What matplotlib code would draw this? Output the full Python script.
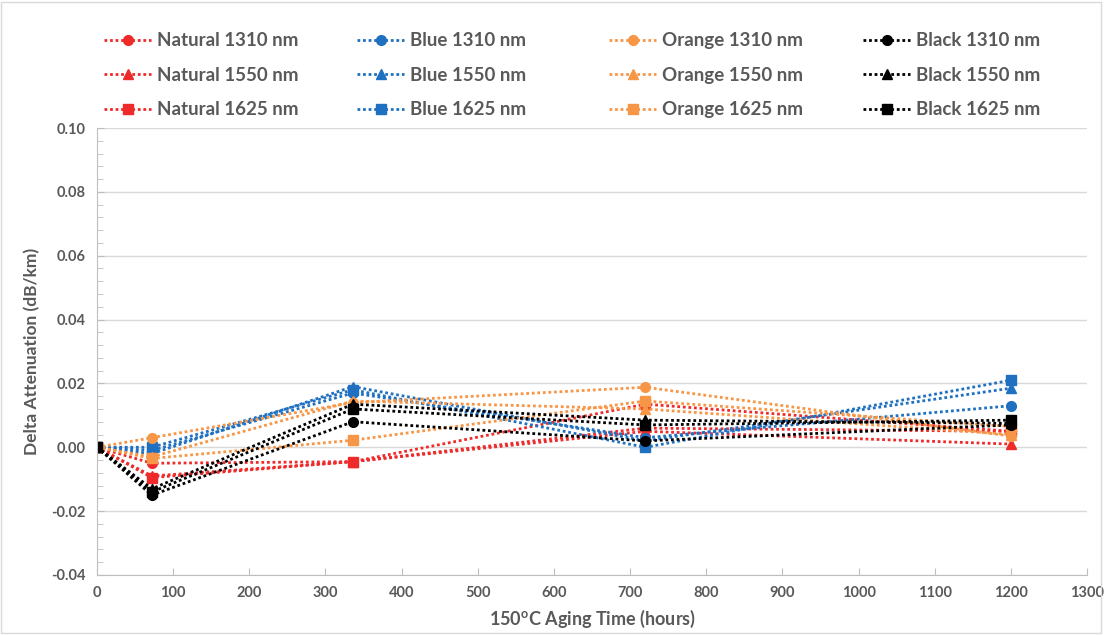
import numpy as np
import matplotlib.pyplot as plt
from matplotlib.ticker import MultipleLocator, FormatStrFormatter
from matplotlib.patches import Rectangle

plt.rcParams['font.family'] = ['Lato', 'DejaVu Sans']

hours = [0, 72, 336, 720, 1200]

natural_1310 = [0, -0.005, -0.0045, 0.006, 0.005]
natural_1550 = [0, -0.009, -0.0045, 0.005, 0.001]
natural_1625 = [0, -0.0095, -0.0045, 0.0135, 0.005]
blue_1310 = [0, -0.001, 0.017, 0.003, 0.013]
blue_1550 = [0, -0.002, 0.019, 0.002, 0.0185]
blue_1625 = [0, 0.000, 0.018, 0.000, 0.021]
orange_1310 = [0, 0.003, 0.014, 0.0188, 0.0035]
orange_1550 = [0, -0.003, 0.0145, 0.012, 0.004]
orange_1625 = [0, -0.0035, 0.0022, 0.0145, 0.0065]
black_1310 = [0, -0.015, 0.008, 0.002, 0.007]
black_1550 = [0, -0.013, 0.0135, 0.0085, 0.0075]
black_1625 = [0, -0.014, 0.012, 0.007, 0.0085]

series = [
    ('Natural 1310 nm', natural_1310, '#EE2A2A', 'o'),
    ('Natural 1550 nm', natural_1550, '#EE2A2A', '^'),
    ('Natural 1625 nm', natural_1625, '#EE2A2A', 's'),
    ('Blue 1310 nm', blue_1310, '#1F70C1', 'o'),
    ('Blue 1550 nm', blue_1550, '#1F70C1', '^'),
    ('Blue 1625 nm', blue_1625, '#1F70C1', 's'),
    ('Orange 1310 nm', orange_1310, '#F79646', 'o'),
    ('Orange 1550 nm', orange_1550, '#F79646', '^'),
    ('Orange 1625 nm', orange_1625, '#F79646', 's'),
    ('Black 1310 nm', black_1310, '#000000', 'o'),
    ('Black 1550 nm', black_1550, '#000000', '^'),
    ('Black 1625 nm', black_1625, '#000000', 's'),
]

fig = plt.figure(figsize=(11.04, 6.35), dpi=100)
ax = fig.add_axes([0.0879, 0.0945, 0.8967, 0.7039])

lines = []
for name, vals, col, mk in series:
    ln, = ax.plot(hours, vals, linestyle=(0, (1, 1)), linewidth=2, color=col,
                  marker=mk, markersize=7, label=name)
    lines.append(ln)

ax.set_xlim(0, 1300)
ax.set_ylim(-0.04, 0.10)
ax.xaxis.set_major_locator(MultipleLocator(100))
ax.yaxis.set_major_locator(MultipleLocator(0.02))
ax.yaxis.set_minor_locator(MultipleLocator(0.004))
ax.yaxis.set_major_formatter(FormatStrFormatter('%.2f'))
ax.grid(axis='y', color='#D9D9D9', linewidth=1)
ax.set_axisbelow(True)

for s in ['top', 'right']:
    ax.spines[s].set_visible(False)
for s in ['left', 'bottom']:
    ax.spines[s].set_color('#BFBFBF')

ax.tick_params(axis='both', which='both', direction='in', color='#BFBFBF',
               labelcolor='#595959', labelsize=10.5)
ax.tick_params(axis='both', which='major', length=5, pad=8)
ax.tick_params(axis='y', which='minor', length=4)
for lab in ax.get_xticklabels() + ax.get_yticklabels():
    lab.set_fontweight('bold')

ax.set_xlabel('150$^{\\mathregular{o}}$C Aging Time (hours)', fontsize=13,
              fontweight='bold', color='#595959', labelpad=6)
ax.set_ylabel('Delta Attenuation (dB/km)', fontsize=12.5, fontweight='bold',
              color='#595959', labelpad=8)

# one legend per colour group, so the columns sit where Excel put them
col_x = [95, 348, 600, 854]
for i, x0 in enumerate(col_x):
    leg = fig.legend(handles=lines[3 * i:3 * i + 3], loc='upper left',
                     bbox_to_anchor=(x0 / 1104, 1 - 23 / 635), frameon=False,
                     handlelength=2.5, handletextpad=0.3, labelspacing=0.93,
                     borderpad=0, prop={'size': 13.5, 'weight': 'bold'})
    for t in leg.get_texts():
        t.set_color('#595959')

fig.patches.append(Rectangle((0.001, 0.003), 0.996, 0.994, transform=fig.transFigure,
                             fill=False, edgecolor='#D9D9D9', linewidth=1))

fig.savefig('out.png', dpi=100)
